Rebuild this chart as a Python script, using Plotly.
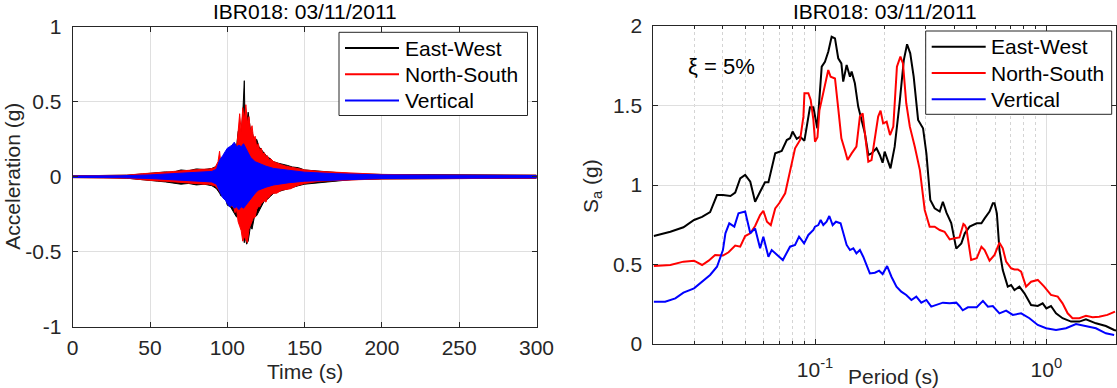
import math
import plotly.graph_objects as go

W, H = 1117, 388
FONT = "Liberation Sans, Arial, Helvetica, sans-serif"
AX = "#262626"
GRID = "#dfdfdf"

# ---------------- Left panel: acceleration time histories (envelopes, g) ----------------
ew_time  = [0, 20, 35, 45, 50, 55, 60, 65, 70, 75, 80, 85, 90, 93, 95, 96, 97.5, 99, 100, 102, 104, 106, 107, 108, 109, 110, 111, 111.6, 112.5, 113.5, 115, 116, 117.5, 119, 120.5, 122, 124, 126, 128, 130, 133, 136, 139, 142, 146, 150, 155, 160, 170, 180, 200, 230, 260, 300]
ew_upper = [0.006, 0.007, 0.01, 0.018, 0.022, 0.028, 0.032, 0.03, 0.045, 0.04, 0.052, 0.048, 0.055, 0.07, 0.08, 0.07, 0.1, 0.09, 0.14, 0.12, 0.18, 0.2, 0.3, 0.32, 0.3, 0.42, 0.64, 0.3, 0.36, 0.43, 0.31, 0.3, 0.24, 0.25, 0.2, 0.18, 0.15, 0.13, 0.12, 0.1, 0.09, 0.085, 0.075, 0.065, 0.06, 0.045, 0.04, 0.035, 0.025, 0.02, 0.015, 0.012, 0.01, 0.01]
ew_lower = [-0.006, -0.007, -0.01, -0.02, -0.025, -0.03, -0.035, -0.04, -0.05, -0.045, -0.055, -0.05, -0.06, -0.08, -0.11, -0.13, -0.12, -0.15, -0.19, -0.2, -0.23, -0.27, -0.25, -0.29, -0.3, -0.38, -0.44, -0.4, -0.45, -0.43, -0.33, -0.35, -0.27, -0.26, -0.24, -0.2, -0.16, -0.15, -0.13, -0.11, -0.1, -0.09, -0.08, -0.07, -0.06, -0.05, -0.045, -0.04, -0.03, -0.02, -0.015, -0.012, -0.01, -0.01]

ns_time  = [0, 20, 35, 45, 50, 55, 60, 65, 70, 75, 80, 85, 88, 92, 94, 95, 96, 97, 98, 99, 100, 101, 102, 103, 104, 105, 106, 107, 108, 109, 110, 111, 112, 113, 114, 115, 116, 117, 118, 119, 120, 121, 122, 123, 124, 125, 126, 127, 128, 130, 132, 135, 138, 141, 145, 150, 160, 170, 185, 200, 230, 260, 300]
ns_upper = [0.006, 0.007, 0.01, 0.02, 0.022, 0.026, 0.03, 0.035, 0.04, 0.045, 0.045, 0.05, 0.05, 0.06, 0.1, 0.17, 0.07, 0.09, 0.08, 0.12, 0.1, 0.14, 0.12, 0.17, 0.14, 0.22, 0.18, 0.3, 0.42, 0.3, 0.46, 0.38, 0.48, 0.36, 0.4, 0.3, 0.34, 0.25, 0.27, 0.2, 0.22, 0.17, 0.19, 0.15, 0.16, 0.13, 0.14, 0.11, 0.12, 0.1, 0.09, 0.08, 0.07, 0.065, 0.055, 0.045, 0.035, 0.03, 0.02, 0.015, 0.012, 0.012, 0.01]
ns_lower = [-0.006, -0.007, -0.01, -0.02, -0.025, -0.028, -0.03, -0.035, -0.04, -0.042, -0.045, -0.05, -0.05, -0.06, -0.08, -0.1, -0.1, -0.12, -0.11, -0.14, -0.17, -0.15, -0.16, -0.2, -0.2, -0.24, -0.22, -0.3, -0.33, -0.36, -0.43, -0.4, -0.42, -0.44, -0.35, -0.33, -0.3, -0.27, -0.27, -0.22, -0.2, -0.2, -0.18, -0.17, -0.16, -0.17, -0.14, -0.14, -0.12, -0.11, -0.11, -0.09, -0.085, -0.08, -0.06, -0.045, -0.03, -0.025, -0.02, -0.015, -0.012, -0.01, -0.01]

v_time  = [0, 30, 50, 60, 70, 80, 90, 93, 95, 97, 99, 100, 101.5, 103, 104.5, 106, 107.5, 109, 110.5, 112, 113.5, 115, 118, 120, 125, 130, 140, 150, 170, 200, 300]
v_upper = [0.005, 0.006, 0.012, 0.018, 0.022, 0.028, 0.035, 0.05, 0.11, 0.14, 0.17, 0.19, 0.2, 0.21, 0.23, 0.2, 0.21, 0.2, 0.22, 0.19, 0.16, 0.13, 0.1, 0.09, 0.07, 0.055, 0.04, 0.03, 0.02, 0.012, 0.008]
v_lower = [-0.005, -0.006, -0.012, -0.018, -0.022, -0.028, -0.035, -0.05, -0.1, -0.14, -0.16, -0.18, -0.2, -0.19, -0.21, -0.2, -0.22, -0.2, -0.21, -0.19, -0.17, -0.15, -0.11, -0.09, -0.07, -0.055, -0.04, -0.03, -0.02, -0.012, -0.008]

time_ticks = [0, 50, 100, 150, 200, 250, 300]
acc_ticks = [-1, -0.5, 0, 0.5, 1]
acc_tick_text = ["-1", "-0.5", "0", "0.5", "1"]

# ---------------- Right panel: 5%-damped response spectra (g) ----------------
ew_period = [0.0201, 0.0237, 0.027, 0.030, 0.0325, 0.0352, 0.0377, 0.040, 0.0431, 0.0452, 0.0475, 0.0499, 0.0525, 0.0551, 0.0579, 0.0608, 0.0629, 0.0673, 0.0718, 0.0755, 0.078, 0.080, 0.0834, 0.0862, 0.090, 0.0951, 0.0984, 0.1023, 0.1069, 0.1104, 0.1141, 0.118, 0.122, 0.126, 0.130, 0.1324, 0.137, 0.1416, 0.144, 0.1487, 0.1537, 0.159, 0.1643, 0.170, 0.1755, 0.1845, 0.1906, 0.196, 0.200, 0.212, 0.221, 0.232, 0.242, 0.250, 0.258, 0.267, 0.279, 0.293, 0.303, 0.315, 0.329, 0.346, 0.357, 0.370, 0.388, 0.408, 0.429, 0.444, 0.466, 0.500, 0.524, 0.541, 0.568, 0.587, 0.597, 0.611, 0.627, 0.648, 0.681, 0.704, 0.728, 0.765, 0.804, 0.859, 0.918, 0.964, 1.000, 1.047, 1.101, 1.175, 1.279, 1.388, 1.483, 1.638, 1.808, 1.963, 2.0]
ew_sa     = [0.679, 0.706, 0.734, 0.780, 0.799, 0.830, 0.937, 0.937, 0.931, 0.952, 1.042, 1.063, 1.021, 0.895, 0.958, 1.017, 1.017, 1.199, 1.214, 1.283, 1.294, 1.336, 1.290, 1.304, 1.279, 1.489, 1.489, 1.357, 1.744, 1.775, 1.838, 1.932, 1.922, 1.797, 1.765, 1.650, 1.755, 1.681, 1.713, 1.640, 1.493, 1.409, 1.325, 1.189, 1.199, 1.231, 1.189, 1.140, 1.210, 1.105, 1.241, 1.514, 1.786, 1.885, 1.828, 1.681, 1.409, 1.357, 1.199, 0.906, 0.854, 0.833, 0.895, 0.826, 0.760, 0.600, 0.633, 0.696, 0.738, 0.759, 0.759, 0.790, 0.833, 0.885, 0.885, 0.822, 0.591, 0.465, 0.361, 0.371, 0.339, 0.361, 0.319, 0.245, 0.239, 0.256, 0.224, 0.239, 0.193, 0.162, 0.141, 0.141, 0.155, 0.130, 0.113, 0.088, 0.085]

ns_period = [0.0201, 0.0237, 0.027, 0.030, 0.0325, 0.0347, 0.037, 0.040, 0.0423, 0.0452, 0.0475, 0.0499, 0.0525, 0.0551, 0.0579, 0.0598, 0.062, 0.0644, 0.0673, 0.070, 0.0743, 0.078, 0.082, 0.0862, 0.0891, 0.090, 0.0936, 0.0958, 0.0984, 0.100, 0.1025, 0.1045, 0.1086, 0.1141, 0.1168, 0.122, 0.126, 0.130, 0.1346, 0.1383, 0.144, 0.151, 0.1563, 0.1607, 0.1643, 0.170, 0.1755, 0.1815, 0.1875, 0.192, 0.197, 0.204, 0.211, 0.218, 0.226, 0.234, 0.240, 0.248, 0.257, 0.270, 0.284, 0.298, 0.313, 0.329, 0.346, 0.363, 0.382, 0.400, 0.421, 0.438, 0.444, 0.451, 0.473, 0.500, 0.524, 0.541, 0.568, 0.597, 0.627, 0.648, 0.670, 0.704, 0.728, 0.753, 0.778, 0.817, 0.859, 0.918, 0.979, 1.047, 1.120, 1.175, 1.236, 1.297, 1.388, 1.483, 1.585, 1.690, 1.836, 1.980]
ns_sa     = [0.491, 0.497, 0.518, 0.524, 0.497, 0.524, 0.560, 0.556, 0.577, 0.619, 0.612, 0.679, 0.696, 0.742, 0.811, 0.838, 0.769, 0.748, 0.853, 0.885, 0.948, 1.094, 1.231, 1.283, 1.430, 1.577, 1.577, 1.535, 1.409, 1.272, 1.300, 1.470, 1.586, 1.723, 1.681, 1.670, 1.482, 1.293, 1.220, 1.157, 1.199, 1.241, 1.430, 1.450, 1.325, 1.147, 1.157, 1.304, 1.430, 1.468, 1.388, 1.398, 1.314, 1.367, 1.744, 1.807, 1.765, 1.514, 1.367, 1.241, 1.094, 0.843, 0.738, 0.738, 0.717, 0.706, 0.658, 0.665, 0.670, 0.755, 0.748, 0.727, 0.528, 0.539, 0.612, 0.591, 0.524, 0.560, 0.637, 0.602, 0.518, 0.476, 0.469, 0.469, 0.455, 0.361, 0.392, 0.403, 0.361, 0.309, 0.298, 0.256, 0.193, 0.162, 0.162, 0.177, 0.168, 0.172, 0.183, 0.204]

v_period = [0.0201, 0.0225, 0.0249, 0.027, 0.030, 0.0325, 0.0352, 0.0377, 0.040, 0.041, 0.0426, 0.0448, 0.0467, 0.0499, 0.051, 0.0525, 0.0551, 0.0579, 0.0598, 0.0629, 0.065, 0.0684, 0.0726, 0.078, 0.082, 0.0853, 0.0897, 0.0936, 0.0984, 0.100, 0.1033, 0.1058, 0.1086, 0.1122, 0.1153, 0.1192, 0.1232, 0.129, 0.1324, 0.137, 0.1416, 0.1464, 0.151, 0.1563, 0.1616, 0.167, 0.1726, 0.1815, 0.1893, 0.196, 0.205, 0.214, 0.225, 0.236, 0.248, 0.261, 0.274, 0.288, 0.303, 0.318, 0.340, 0.357, 0.382, 0.408, 0.421, 0.435, 0.458, 0.500, 0.532, 0.559, 0.587, 0.627, 0.670, 0.716, 0.778, 0.845, 0.918, 0.998, 1.101, 1.216, 1.343, 1.483, 1.638, 1.808, 1.963]
v_sa     = [0.266, 0.266, 0.287, 0.323, 0.350, 0.392, 0.434, 0.486, 0.591, 0.696, 0.759, 0.738, 0.822, 0.833, 0.780, 0.696, 0.727, 0.602, 0.675, 0.549, 0.591, 0.560, 0.528, 0.612, 0.623, 0.675, 0.633, 0.686, 0.717, 0.738, 0.748, 0.780, 0.748, 0.769, 0.805, 0.748, 0.769, 0.759, 0.696, 0.623, 0.591, 0.602, 0.570, 0.591, 0.549, 0.497, 0.444, 0.448, 0.461, 0.440, 0.490, 0.423, 0.361, 0.329, 0.308, 0.277, 0.298, 0.260, 0.277, 0.235, 0.252, 0.260, 0.256, 0.260, 0.239, 0.212, 0.231, 0.231, 0.271, 0.235, 0.239, 0.193, 0.210, 0.183, 0.193, 0.162, 0.120, 0.099, 0.088, 0.099, 0.126, 0.113, 0.099, 0.067, 0.057]

sa_ticks = [0, 0.5, 1, 1.5, 2]
sa_tick_text = ["0", "0.5", "1", "1.5", "2"]
period_ticks = [0.1, 1]
period_tick_text = ["10<sup>-1</sup>", "10<sup>0</sup>"]
period_minor = [0.02, 0.03, 0.04, 0.05, 0.06, 0.07, 0.08, 0.09, 0.2, 0.3, 0.4, 0.5, 0.6, 0.7, 0.8, 0.9, 2]

names = ["East-West", "North-South", "Vertical"]
colors = ["#000000", "#ff0000", "#0000ff"]

fig = go.Figure()

# Left panel: filled envelopes of the oscillating records
for n, t, up, lo, c in [(names[0], ew_time, ew_upper, ew_lower, colors[0]),
                        (names[1], ns_time, ns_upper, ns_lower, colors[1]),
                        (names[2], v_time, v_upper, v_lower, colors[2])]:
    fig.add_trace(go.Scatter(x=t + t[::-1], y=up + lo[::-1], mode="lines", name=n,
                             fill="toself", fillcolor=c, line=dict(color=c, width=1),
                             showlegend=False, hoverinfo="skip", xaxis="x", yaxis="y"))

# Right panel spectra
for n, c, px, py in zip(names, colors, [ew_period, ns_period, v_period], [ew_sa, ns_sa, v_sa]):
    fig.add_trace(go.Scatter(x=px, y=py, mode="lines", name=n, line=dict(color=c, width=2),
                             showlegend=False, xaxis="x2", yaxis="y2"))


def px_x(p):
    return p / W


def px_y(p):
    return 1 - p / H


axis_common = dict(showline=True, linecolor=AX, linewidth=1, mirror="ticks", ticks="inside",
                   ticklen=5, tickcolor=AX, tickfont=dict(family=FONT, size=21, color=AX),
                   showgrid=True, gridcolor=GRID, gridwidth=1, zeroline=False, automargin=False)

fig.update_layout(
    width=W, height=H, margin=dict(l=0, r=0, t=0, b=0),
    paper_bgcolor="white", plot_bgcolor="white",
    font=dict(family=FONT, size=21, color=AX),
    showlegend=False,
    xaxis=dict(domain=[px_x(72.7), px_x(536.5)], range=[0, 300], tickvals=time_ticks,
               ticklabelstandoff=2, anchor="y", **axis_common),
    yaxis=dict(domain=[px_y(326.7), px_y(26.7)], range=[-1, 1], tickvals=acc_ticks,
               ticktext=acc_tick_text, ticklabelstandoff=6, anchor="x", **axis_common),
    xaxis2=dict(domain=[px_x(653.3), px_x(1116)], type="log",
                range=[math.log10(0.02), math.log10(2)], tickvals=period_ticks,
                ticktext=period_tick_text, ticklabelstandoff=7, anchor="y2",
                minor=dict(tickvals=period_minor, showgrid=True, griddash="dot",
                           gridcolor="#d4d4d4", ticks="inside", ticklen=3, tickcolor=AX),
                **axis_common),
    yaxis2=dict(domain=[px_y(344), px_y(26)], range=[0, 2], tickvals=sa_ticks,
                ticktext=sa_tick_text, ticklabelstandoff=6, anchor="x2", **axis_common),
)

ann = []
ann.append(dict(text="IBR018: 03/11/2011", x=px_x(304.6), y=px_y(11), xanchor="center", yanchor="middle", c="black"))
ann.append(dict(text="IBR018: 03/11/2011", x=px_x(884.5), y=px_y(11), xanchor="center", yanchor="middle", c="black"))
ann.append(dict(text="Time (s)", x=px_x(304.6), y=px_y(371), xanchor="center", yanchor="middle", c=AX))
ann.append(dict(text="Period (s)", x=px_x(893), y=px_y(376), xanchor="center", yanchor="middle", c=AX))
ann.append(dict(text="Acceleration (g)", x=px_x(13), y=px_y(176.7), xanchor="center", yanchor="middle", textangle=-90, c=AX))
ann.append(dict(text="S<sub>a</sub> (g)", x=px_x(592), y=px_y(186), xanchor="center", yanchor="middle", textangle=-90, c=AX))
ann.append(dict(text="\u03be = 5%", x=px_x(721.7), y=px_y(66), xanchor="center", yanchor="middle", c="black", fs=22))

# Legend boxes (one per panel), drawn as shapes + text
shapes = []
legend_boxes = [(339, 527.5, 32.3, 115.5), (925.7, 1111.7, 31, 114.3)]
for (bx0, bx1, by0, by1) in legend_boxes:
    shapes.append(dict(type="rect", xref="paper", yref="paper", x0=px_x(bx0), x1=px_x(bx1),
                       y0=px_y(by1), y1=px_y(by0), line=dict(color=AX, width=1), fillcolor="white",
                       layer="above"))
    for i, (n, c) in enumerate(zip(names, colors)):
        ry = by0 + 15.8 + i * 26.2
        shapes.append(dict(type="line", xref="paper", yref="paper", x0=px_x(bx0 + 6), x1=px_x(bx0 + 60),
                           y0=px_y(ry), y1=px_y(ry), line=dict(color=c, width=2), layer="above"))
        ann.append(dict(text=n, x=px_x(bx0 + 63.5), y=px_y(ry), xanchor="left", yanchor="middle", c="black"))

for a in ann:
    a.update(xref="paper", yref="paper", showarrow=False)
    fs = a.pop("fs", 21)
    col = a.pop("c")
    a["font"] = dict(family=FONT, size=fs, color=col)
fig.update_layout(annotations=ann, shapes=shapes)

fig.write_html("out.html", config={"displayModeBar": False},
               post_script="document.body.style.margin='0';document.body.style.overflow='hidden';")
